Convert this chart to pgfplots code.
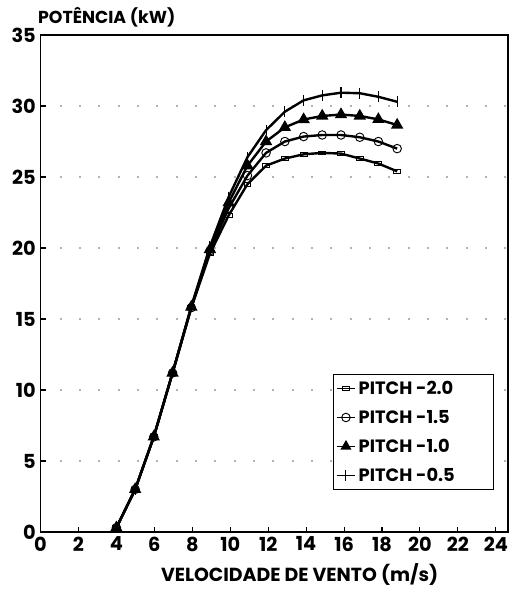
\documentclass[border=0pt]{standalone}
\usepackage{pgfplots}
\pgfplotsset{compat=1.18}
\usepackage{fontspec}
\setmainfont{Poppins}

\pgfplotstableread{
x      p20    p15    p10    p05
4.00   0.3    0.3    0.3    0.3
4.99   3.0    3.0    3.0    3.0
5.97   6.7    6.7    6.7    6.7
6.96   11.2   11.2   11.2   11.2
7.95   15.8   15.8   15.85  15.9
8.93   19.6   19.8   19.9   20.1
9.92   22.3   22.8   23.2   23.6
10.91  24.5   25.1   25.8   26.4
11.89  25.8   26.7   27.5   28.3
12.88  26.3   27.5   28.5   29.6
13.87  26.6   27.85  29.05  30.4
14.85  26.7   27.96  29.3   30.75
15.84  26.65  27.96  29.4   30.94
16.83  26.3   27.8   29.3   30.9
17.81  25.95  27.5   29.06  30.65
18.80  25.4   27.0   28.66  30.3
}\pitch

\newcommand{\entry}[1]{\makebox[97pt][l]{#1}}

\begin{document}
\begin{tikzpicture}
\begin{axis}[
  scale only axis,
  width=351pt, height=373pt,
  xmin=0, xmax=24.65, ymin=0, ymax=35,
  xtick={0,2,...,24}, ytick={0,5,...,35},
  tick align=inside,
  xtick pos=bottom, ytick pos=left,
  major tick length=4pt,
  tick style={black, line width=0.8pt},
  axis line style={line width=1.2pt},
  tick label style={font=\fontsize{14.5}{16}\selectfont\bfseries},
  /pgf/number format/assume math mode=true,
  ymajorgrids,
  grid style={gray!60, line width=1pt, dash pattern=on 1.5pt off 13pt},
  xlabel={VELOCIDADE DE VENTO (m/s)},
  xlabel style={font=\fontsize{14.2}{16}\selectfont\bfseries, yshift=-2pt, xshift=19pt},
  legend style={at={(axis cs:23.9,11.15)}, anchor=north east,
    font=\fontsize{13.4}{16}\selectfont\bfseries, draw=black, line width=0.9pt,
    inner xsep=2pt, inner ysep=3pt, row sep=6.3pt, cells={anchor=west}},
  legend image code/.code={\draw[#1, line width=1.2pt] (0pt,0pt) -- (14pt,0pt) plot coordinates {(7pt,0pt)};},
]
\addplot[black, line width=1.8pt, mark=square, mark size=2.6pt,
  mark options={yscale=0.55, line width=0.7pt, fill=white}] table[x=x,y=p20] {\pitch};
\addlegendentry{\entry{PITCH -2.0}}
\addplot[black, line width=1.8pt, mark=o, mark size=3.2pt,
  mark options={line width=0.7pt}] table[x=x,y=p15] {\pitch};
\addlegendentry{\entry{PITCH -1.5}}
\addplot[black, line width=1.8pt, mark=triangle*, mark size=3.6pt] table[x=x,y=p10] {\pitch};
\addlegendentry{\entry{PITCH -1.0}}
\addplot[black, line width=1.8pt, mark=|, mark size=4pt,
  mark options={line width=0.8pt}] table[x=x,y=p05] {\pitch};
\addlegendentry{\entry{PITCH -0.5}}
\end{axis}
\node[anchor=south west, font=\fontsize{13}{15}\selectfont\bfseries, inner sep=0pt]
  at ([xshift=-2pt, yshift=6pt]current axis.north west) {POTÊNCIA (kW)};
\pgfresetboundingbox
\useasboundingbox ([xshift=-30.4pt, yshift=-44.3pt]current axis.south west)
  rectangle ([xshift=2.3pt, yshift=26.3pt]current axis.north east);
\end{tikzpicture}
\end{document}
